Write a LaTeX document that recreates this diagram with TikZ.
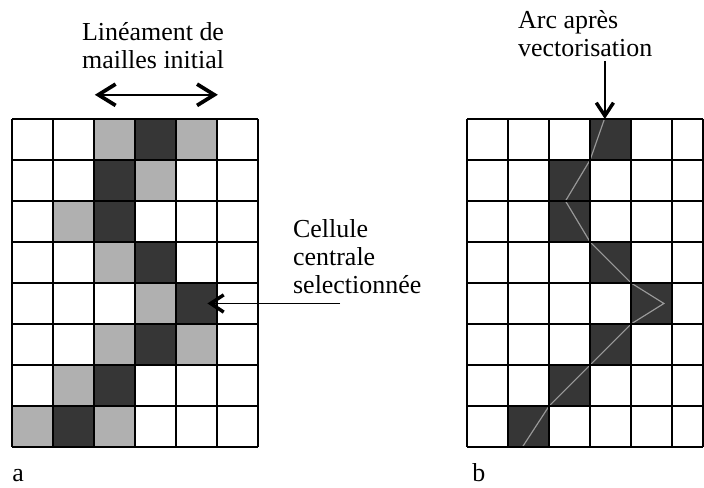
\documentclass[tikz,border=0pt]{standalone}
\usepackage{fontspec}
\setmainfont{Liberation Serif}
\usepackage{xcolor}
\usepackage{tikz}
\usetikzlibrary{arrows.meta}
\definecolor{ink}{HTML}{000000}
\definecolor{lightcell}{HTML}{B0B0B0}
\definecolor{darkcell}{HTML}{363636}
\definecolor{arcgrey}{HTML}{9A9A9A}
\tikzset{
  gridline/.style={draw=ink, line width=1.3pt},
  lightfill/.style={fill=lightcell},
  darkfill/.style={fill=darkcell},
  arcline/.style={draw=arcgrey, line width=0.8pt},
  pointer/.style={draw=ink, line width=1pt, -{Straight Barb[length=0.32cm,width=0.42cm,line width=2.4pt]}},
  spanarrow/.style={draw=ink, line width=1pt, {Straight Barb[length=0.42cm,width=0.52cm,line width=2.6pt]}-{Straight Barb[length=0.42cm,width=0.52cm,line width=2.6pt]}},
  lab/.style={text=ink, font=\fontsize{18}{19.5}\selectfont, inner sep=0pt},
}

\begin{document}
\begin{tikzpicture}
\useasboundingbox (-0.293,-1.0) rectangle (16.878,10.902);
% grille a : maillage initial
\fill[lightfill] (2,7) rectangle (3,8);
\fill[lightfill] (4,7) rectangle (5,8);
\fill[lightfill] (3,6) rectangle (4,7);
\fill[lightfill] (1,5) rectangle (2,6);
\fill[lightfill] (2,4) rectangle (3,5);
\fill[lightfill] (3,3) rectangle (4,4);
\fill[lightfill] (2,2) rectangle (3,3);
\fill[lightfill] (4,2) rectangle (5,3);
\fill[lightfill] (1,1) rectangle (2,2);
\fill[lightfill] (0,0) rectangle (1,1);
\fill[lightfill] (2,0) rectangle (3,1);
\fill[darkfill] (3,7) rectangle (4,8);
\fill[darkfill] (2,6) rectangle (3,7);
\fill[darkfill] (2,5) rectangle (3,6);
\fill[darkfill] (3,4) rectangle (4,5);
\fill[darkfill] (4,3) rectangle (5,4);
\fill[darkfill] (3,2) rectangle (4,3);
\fill[darkfill] (2,1) rectangle (3,2);
\fill[darkfill] (1,0) rectangle (2,1);
\draw[gridline] (0,0) grid (6,8);
\node[minimum size=1cm, inner sep=0pt] (selcell) at (4.5,3.5) {};

\node[lab, align=center, anchor=north] (linlab) at (3.44,10.37) {Linéament de\\mailles initial};
\coordinate (spanL) at (2.02,8.59);
\coordinate (spanR) at (5.02,8.59);
\draw[spanarrow] (spanL) -- (spanR);

\node[lab, align=left, anchor=north west] (cellab) at (6.85,5.56) {Cellule\\centrale\\selectionnée};
\coordinate (celend) at (8.0,3.5);
\draw[pointer] (celend) -- ([xshift=-0.24cm]selcell.east);

\node[lab, anchor=base west] (tagA) at (0,-0.854) {a};

% grille b : arc vectorise
\begin{scope}[xshift=11.1cm]
\fill[darkfill] (3,7) rectangle (4,8);
\fill[darkfill] (2,6) rectangle (3,7);
\fill[darkfill] (2,5) rectangle (3,6);
\fill[darkfill] (3,4) rectangle (4,5);
\fill[darkfill] (4,3) rectangle (5,4);
\fill[darkfill] (3,2) rectangle (4,3);
\fill[darkfill] (2,1) rectangle (3,2);
\fill[darkfill] (1,0) rectangle (2,1);
\draw[arcline] (3.35,8) -- (3,7) -- (2.4,6) -- (3,5) -- (4,4) -- (4.8,3.5)
  -- (4,3) -- (3,2) -- (2,1) -- (1.35,0);
\draw[gridline] (0,0) grid (5.75,8);
\draw[gridline] (5.75,0) -- (5.75,8);
\coordinate (arctop) at (3.36,8);
\node[lab, anchor=base west] (tagB) at (0.12,-0.854) {b};
\end{scope}

\node[lab, align=left, anchor=north west] (arclab) at (12.34,10.66) {Arc après\\vectorisation};
\draw[pointer, shorten <=1mm] (arclab.south -| arctop) -- (arctop);
\end{tikzpicture}
\end{document}
